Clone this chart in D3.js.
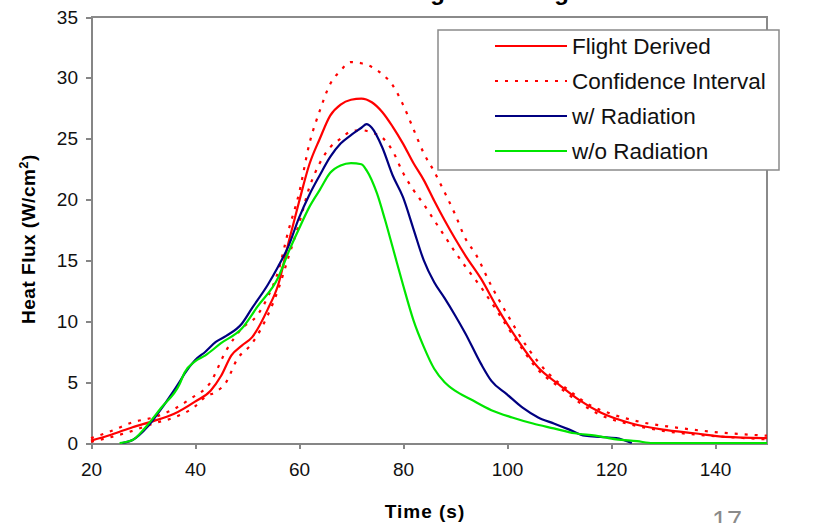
<!DOCTYPE html>
<html>
<head>
<meta charset="utf-8">
<title>Heat Flux - Stagnation Region</title>
<style>
body { margin: 0; background: #fff; }
svg { display: block; font-family: "Liberation Sans", Arial, sans-serif; }
.axis path, .axis line { stroke: #868686; stroke-width: 2; shape-rendering: crispEdges; }
.axis text { font-size: 19px; fill: #111; }
</style>
</head>
<body>
<script src="https://cdn.jsdelivr.net/npm/d3@7/dist/d3.min.js"></script>
<script>
// flight derived heat flux (W/cm^2) vs time (s)
var flightT = [20, 24, 28, 32, 36, 40, 43, 45, 47, 49, 51, 54, 56, 58, 60, 62, 64, 66, 68, 70, 72, 74, 76, 78, 80, 82, 84, 86, 88, 90, 92, 95, 98, 102, 106, 110, 114, 118, 124, 130, 136, 142, 150];
var flightV = [0.2, 0.7, 1.3, 1.8, 2.4, 3.4, 4.3, 5.5, 7.2, 8.0, 8.7, 11.0, 13.0, 16.5, 19.8, 22.9, 25.0, 26.9, 27.8, 28.2, 28.3, 28.0, 27.2, 26.0, 24.6, 23.0, 21.6, 19.9, 18.3, 16.8, 15.4, 13.5, 11.2, 8.5, 6.2, 4.8, 3.5, 2.5, 1.6, 1.1, 0.8, 0.5, 0.4];

// confidence interval, upper and lower bounds
var upperT = [20, 24, 28, 32, 36, 39, 43, 46, 49, 52, 54, 56, 58, 60, 62, 64, 66, 68, 70, 72, 74, 76, 78, 80, 82, 84, 86, 88, 90, 92, 94, 97, 100, 104, 108, 112, 116, 120, 126, 132, 140, 150];
var upperV = [0.4, 1.0, 1.7, 2.1, 2.8, 3.6, 5.0, 7.6, 9.4, 10.5, 12.0, 14.1, 17.5, 20.5, 24.6, 27.3, 29.5, 30.6, 31.3, 31.2, 30.9, 30.3, 29.4, 27.8, 25.8, 23.8, 22.3, 20.6, 18.8, 16.8, 15.5, 12.9, 10.6, 7.8, 5.7, 4.3, 3.1, 2.4, 1.7, 1.3, 0.9, 0.6];
var lowerT = [20, 24, 28, 32, 36, 40, 42, 44, 46, 48, 51, 54, 56, 58, 60, 62, 64, 66, 68, 70, 72, 74, 76, 78, 80, 82, 84, 86, 88, 90, 92, 95, 98, 102, 106, 110, 114, 118, 124, 130, 136, 142, 150];
var lowerV = [0.1, 0.5, 1.0, 1.6, 2.1, 3.0, 3.8, 4.2, 5.0, 6.8, 8.2, 10.5, 12.6, 15.3, 18.0, 21.0, 23.0, 24.3, 25.0, 25.6, 25.7, 25.5, 25.1, 24.0, 22.2, 20.8, 19.6, 18.3, 17.0, 15.7, 14.5, 12.8, 10.9, 8.3, 6.0, 4.6, 3.3, 2.3, 1.5, 1.0, 0.7, 0.5, 0.3];

// prediction w/ radiation
var radT = [26, 28, 31, 34, 37, 38, 40, 42, 44, 46, 49, 51, 54, 56, 58, 60, 62, 64, 66, 68, 70, 72, 73, 74, 76, 78, 80, 82, 84, 86, 88, 90, 92, 95, 97, 100, 103, 106, 109, 112, 115, 118, 121, 124];
var radV = [0, 0.25, 1.4, 3.1, 5.0, 5.7, 6.8, 7.5, 8.3, 8.8, 9.8, 11.1, 13.0, 14.5, 16.2, 18.5, 20.4, 22.0, 23.5, 24.6, 25.3, 25.9, 26.2, 25.9, 24.3, 22.0, 20.2, 17.6, 15.0, 13.2, 11.9, 10.5, 9.0, 6.5, 5.1, 4.0, 2.9, 2.1, 1.6, 1.1, 0.6, 0.5, 0.4, 0];

// prediction w/o radiation
var noRadT = [25.5, 28, 30.5, 33.5, 37, 38, 40, 42, 45, 49, 52, 56, 58, 60, 62, 64, 66, 68, 70, 72, 73, 75, 76.5, 78, 80, 82, 84, 86, 88, 90, 93, 97, 101, 105, 109, 113, 117, 121, 125, 128, 150];
var noRadV = [0, 0.25, 1.3, 2.9, 4.8, 5.8, 6.7, 7.2, 8.2, 9.4, 11.2, 13.6, 15.7, 17.6, 19.4, 20.8, 22.2, 22.8, 23.0, 22.9, 22.4, 20.5, 18.4, 16.1, 13.0, 10.1, 7.9, 6.1, 5.0, 4.3, 3.6, 2.7, 2.1, 1.6, 1.2, 0.8, 0.6, 0.3, 0.15, 0, 0];

var xTicks = [20, 40, 60, 80, 100, 120, 140];
var yTicks = [0, 5, 10, 15, 20, 25, 30, 35];
var legendNames = ["Flight Derived", "Confidence Interval", "w/ Radiation", "w/o Radiation"];

var W = 815, H = 523;
var margin = {top: 17, right: 48, bottom: 80, left: 91};
var width = W - margin.left - margin.right,
    height = H - margin.top - margin.bottom;

var svg = d3.select("body").append("svg")
    .attr("width", W)
    .attr("height", H);

var xScale = d3.scaleLinear().domain([20, 150]).range([0, width]);
var yScale = d3.scaleLinear().domain([0, 35]).range([height, 0]);

function zip(ts, vs) {
    return ts.map(function(t, i) { return [t, vs[i]]; });
}

// title, mostly cut off at the top edge
svg.append("text")
    .attr("x", 393)
    .attr("y", 0)
    .style("font-size", "24px")
    .style("font-weight", "bold")
    .text("Stagnation Region");

var g = svg.append("g")
    .attr("transform", "translate(" + margin.left + "," + margin.top + ")");

// plot frame (top and right)
g.append("path")
    .attr("d", "M0,0H" + width + "V" + height)
    .attr("fill", "none")
    .attr("stroke", "#8a8a8a")
    .attr("stroke-width", 2);

// axes
g.append("g")
    .attr("class", "x axis")
    .attr("transform", "translate(0," + height + ")")
    .call(d3.axisBottom(xScale).tickValues(xTicks).tickSize(6).tickPadding(14).tickSizeOuter(0));

g.append("g")
    .attr("class", "y axis")
    .call(d3.axisLeft(yScale).tickValues(yTicks).tickSize(5).tickPadding(8).tickSizeOuter(0));

// axis titles
svg.append("text")
    .attr("x", 425)
    .attr("y", 518)
    .attr("text-anchor", "middle")
    .style("font-size", "19px")
    .style("font-weight", "bold")
    .style("letter-spacing", "1px")
    .text("Time (s)");

var yt = svg.append("text")
    .attr("transform", "translate(35,239) rotate(-90)")
    .attr("text-anchor", "middle")
    .style("font-size", "19px")
    .style("font-weight", "bold")
    .style("letter-spacing", "0.5px");
yt.append("tspan").text("Heat Flux (W/cm");
yt.append("tspan").attr("dy", "-7").style("font-size", "13px").text("2");
yt.append("tspan").attr("dy", "7").text(")");

// lines
var line = d3.line()
    .x(function(d) { return xScale(d[0]); })
    .y(function(d) { return yScale(d[1]); })
    .curve(d3.curveMonotoneX);

var series = [
    {data: zip(upperT, upperV), color: "#ff0000", dash: "3,7"},
    {data: zip(lowerT, lowerV), color: "#ff0000", dash: "3,7"},
    {data: zip(flightT, flightV), color: "#ff0000", dash: null},
    {data: zip(radT, radV), color: "#000080", dash: null},
    {data: zip(noRadT, noRadV), color: "#00e600", dash: null}
];

g.selectAll(".series")
    .data(series)
    .enter().append("path")
    .attr("class", "series")
    .attr("d", function(d) { return line(d.data); })
    .attr("fill", "none")
    .attr("stroke", function(d) { return d.color; })
    .attr("stroke-width", 2.2)
    .attr("stroke-dasharray", function(d) { return d.dash; });

// legend
var lg = svg.append("g").attr("transform", "translate(438,30)");
lg.append("rect")
    .attr("width", 341)
    .attr("height", 140)
    .attr("fill", "#fff")
    .attr("stroke", "#8a8a8a")
    .attr("stroke-width", 1.5);

var legendColors = ["#ff0000", "#ff0000", "#000080", "#00e600"];
var legendDash = [null, "3,7", null, null];

var item = lg.selectAll(".legend")
    .data(legendNames)
    .enter().append("g")
    .attr("class", "legend")
    .attr("transform", function(d, i) { return "translate(0," + (16 + i * 35) + ")"; });

item.append("line")
    .attr("x1", 57).attr("x2", 129)
    .attr("stroke", function(d, i) { return legendColors[i]; })
    .attr("stroke-width", 2.2)
    .attr("stroke-dasharray", function(d, i) { return legendDash[i]; });

item.append("text")
    .attr("x", 134)
    .attr("dy", "0.35em")
    .style("font-size", "22.5px")
    .style("fill", "#111")
    .text(function(d) { return d; });

// slide page number
svg.append("text")
    .attr("x", 727)
    .attr("y", 530)
    .attr("text-anchor", "middle")
    .style("font-size", "27px")
    .style("fill", "#8a8a8a")
    .text("17");
</script>
</body>
</html>
